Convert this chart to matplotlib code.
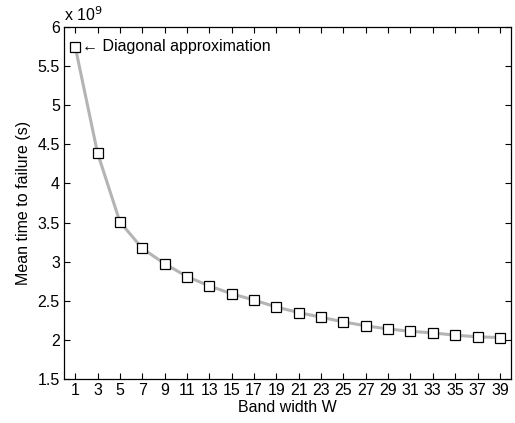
import matplotlib
matplotlib.use("Agg")
import matplotlib.pyplot as plt
from matplotlib.ticker import FuncFormatter

plt.rcParams['font.family'] = ['Liberation Sans', 'DejaVu Sans']

# band width W and mean time to failure (units of 1e9 s)
band_width = [1, 3, 5, 7, 9, 11, 13, 15, 17, 19, 21, 23, 25, 27, 29, 31, 33, 35, 37, 39]
mttf = [5.75, 4.39, 3.51, 3.17, 2.975, 2.81, 2.69, 2.59, 2.51, 2.42,
        2.35, 2.29, 2.23, 2.18, 2.14, 2.11, 2.09, 2.06, 2.04, 2.03]
y_ticks = [1.5, 2, 2.5, 3, 3.5, 4, 4.5, 5, 5.5, 6]

fs = 11.5
fig = plt.figure(figsize=(5.15, 4.23), dpi=100)
ax = fig.add_axes([0.1243, 0.104, 0.868, 0.832])

ax.plot(band_width, mttf, '-', color='#b4b4b4', lw=2.2, zorder=2)
ax.plot(band_width, mttf, 's', mfc='white', mec='black', mew=0.9, ms=7, zorder=3)

ax.set_xlim(0, 40)
ax.set_ylim(1.5, 6)
ax.set_xticks(band_width)
ax.set_yticks(y_ticks)
ax.yaxis.set_major_formatter(FuncFormatter(lambda v, p: f'{v:g}'))
ax.tick_params(direction='in', top=True, right=True, labelsize=fs, length=4, width=0.8, pad=3)
for s in ax.spines.values():
    s.set_linewidth(0.9)

ax.set_xlabel('Band width W', fontsize=fs, labelpad=1)
ax.set_ylabel('Mean time to failure (s)', fontsize=fs, labelpad=5)
ax.text(0, 6.04, r'x 10$^9$', fontsize=fs, ha='left', va='bottom')

ax.annotate('\u2190 Diagonal approximation', xy=(band_width[0], mttf[0]),
            xytext=(1.65, mttf[0]), fontsize=fs, va='center', ha='left')

fig.savefig('out.png', dpi=100)
